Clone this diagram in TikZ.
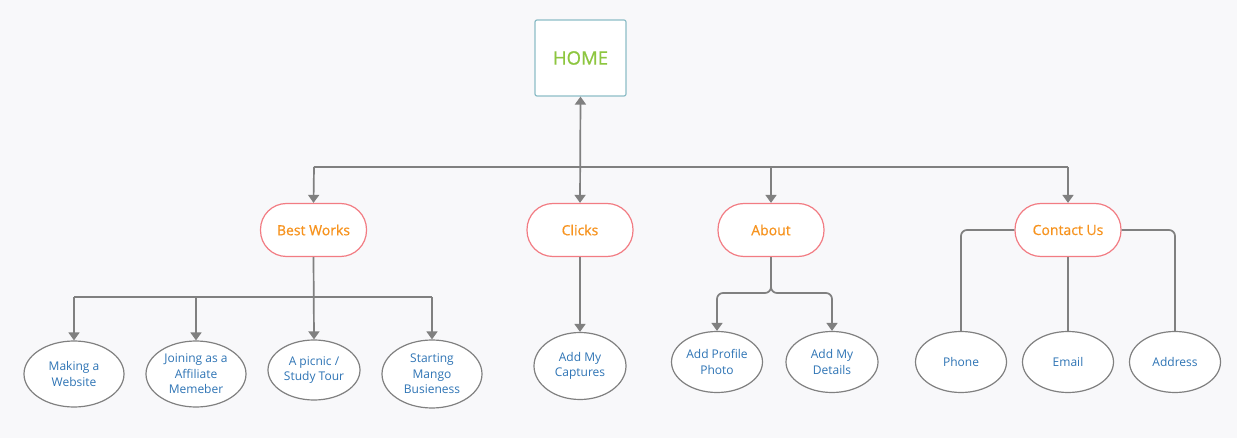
\documentclass[tikz,border=0pt]{standalone}
\usepackage{fontspec}
\setmainfont{Open Sans}
\newfontfamily\pillfont[FakeBold=0.7]{Open Sans}
\usetikzlibrary{arrows.meta,shapes.geometric}
\definecolor{bgc}{HTML}{F8F8FA}
\definecolor{linec}{HTML}{808080}
\definecolor{homeb}{HTML}{8DBDC7}
\definecolor{homet}{HTML}{8DC63F}
\definecolor{pillb}{HTML}{F27C83}
\definecolor{pillt}{HTML}{F7931E}
\definecolor{leaft}{HTML}{2E74B5}
\begin{document}
\begin{tikzpicture}[x=1pt,y=-1pt,
  homebox/.style={draw=homeb,line width=1.2pt,fill=white,rounded corners=2pt,minimum width=91pt,minimum height=76pt,inner sep=0pt,text=homet,font=\pillfont\fontsize{18.5}{22}\selectfont},
  pill/.style={draw=pillb,line width=1.2pt,fill=white,rounded corners=26pt,minimum width=106pt,minimum height=53pt,inner sep=0pt,text=pillt,font=\pillfont\fontsize{14}{17}\selectfont},
  leaf/.style={ellipse,draw=linec,line width=1.2pt,fill=white,inner sep=0pt,align=center,text=leaft,font=\fontsize{12}{15.5}\selectfont},
  conn/.style={draw=linec,line width=1.7pt},
  arr/.style={conn,-{Triangle[width=11pt,length=8pt]}},
]
\fill[bgc] (0,0) rectangle (1237,438);
\useasboundingbox (0,0) rectangle (1237,438);

% main nodes
\node[homebox] (home) at (580.5,58) {HOME};
\node[pill] (best) at (313.5,230) {Best Works};
\node[pill] (clicks) at (580,230) {Clicks};
\node[pill] (about) at (771,230) {About};
\node[pill] (contact) at (1068,230) {Contact Us};

% leaves
\node[leaf,minimum width=100pt,minimum height=66pt] (web) at (74,374) {Making a\\Website};
\node[leaf,minimum width=100pt,minimum height=66pt] (aff) at (196,374) {Joining as a\\Affiliate\\Memeber};
\node[leaf,minimum width=92pt,minimum height=60pt] (tour) at (314,370) {A picnic /\\Study Tour};
\node[leaf,minimum width=100pt,minimum height=68pt] (mango) at (432,374) {Starting\\Mango\\Busieness};
\node[leaf,minimum width=92pt,minimum height=67pt] (capt) at (580,366) {Add My\\Captures};
\node[leaf,minimum width=91pt,minimum height=61pt] (photo) at (717,362) {Add Profile\\Photo};
\node[leaf,minimum width=92pt,minimum height=61pt] (det) at (832,362) {Add My\\Details};
\node[leaf,minimum width=91pt,minimum height=61pt] (phone) at (961,362) {Phone};
\node[leaf,minimum width=91pt,minimum height=61pt] (email) at (1068,362) {Email};
\node[leaf,minimum width=91pt,minimum height=61pt] (addr) at (1175,362) {Address};

% top bus
\coordinate (busL) at (314,167);
\coordinate (busA) at (771,167);
\coordinate (busR) at (1068,167);
\draw[conn] (busL) -- (busR);
\draw[conn,{Triangle[width=11pt,length=8pt]}-{Triangle[width=11pt,length=8pt]}] (home.south) -- (clicks.north);
\draw[arr] (busL) -- (best.north);
\draw[arr] (busA) -- (about.north);
\draw[arr] (busR) -- (contact.north);

% best works bus
\coordinate (bb1) at (74,297);
\coordinate (bb2) at (196,297);
\coordinate (bb4) at (432,297);
\draw[conn] (bb1) -- (bb4);
\draw[arr] (best.south) -- (tour.north);
\draw[arr] (bb1) -- (web.north);
\draw[arr] (bb2) -- (aff.north);
\draw[arr] (bb4) -- (mango.north);

% clicks
\draw[arr] (clicks.south) -- (capt.north);

% about
\coordinate (aS) at (771,293);
\draw[arr,rounded corners=6pt] (about.south) -- (aS) -| (photo.north);
\draw[arr,rounded corners=6pt] (about.south) -- (aS) -| (det.north);

% contact
\draw[conn,rounded corners=6pt] (contact.west) -| (phone.north);
\draw[conn] (contact.south) -- (email.north);
\draw[conn,rounded corners=6pt] (contact.east) -| (addr.north);
\end{tikzpicture}
\end{document}
